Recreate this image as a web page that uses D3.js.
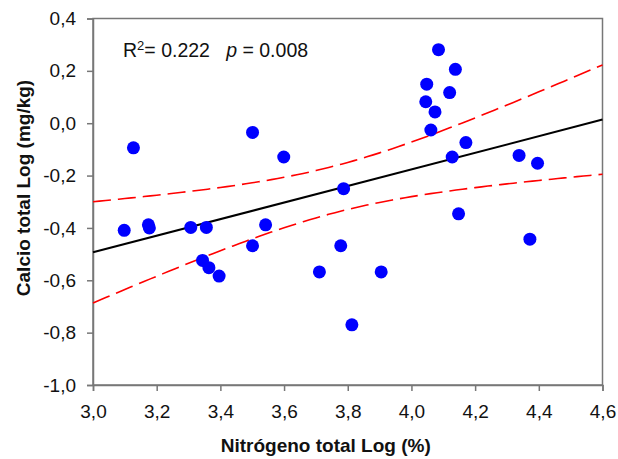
<!DOCTYPE html>
<html>
<head>
<meta charset="utf-8">
<script src="https://cdn.jsdelivr.net/npm/d3@7"></script>
<style>
  body { margin: 0; background: #fff; }
  text { font-family: "Liberation Sans", Arial, sans-serif; }
</style>
</head>
<body>
<div id="chart"></div>
<script>
// nitrógeno total (log %) vs calcio total (log mg/kg)
var nitrogeno = [3.127, 3.501, 3.599, 3.098, 3.174, 3.177, 3.307, 3.356, 3.542, 3.501,
                 3.344, 3.364, 3.396, 3.711, 3.778, 3.905, 3.813, 4.372, 4.085, 4.138,
                 4.048, 4.120, 4.045, 4.074, 4.061, 4.171, 4.128, 4.338, 4.396, 3.787, 4.148];
var calcio = [-0.094, -0.035, -0.129, -0.409, -0.388, -0.400, -0.398, -0.398, -0.388, -0.468,
              -0.524, -0.552, -0.584, -0.568, -0.468, -0.568, -0.770, -0.443, 0.281, 0.206,
              0.149, 0.117, 0.082, 0.043, -0.026, -0.074, -0.129, -0.123, -0.153, -0.250, -0.346];
var xTicks = [3.0, 3.2, 3.4, 3.6, 3.8, 4.0, 4.2, 4.4, 4.6];
var yTicks = [0.4, 0.2, 0.0, -0.2, -0.4, -0.6, -0.8, -1.0];

var width = 618, height = 459;
var margin = {top: 18.5, right: 15.5, bottom: 74, left: 93};

var svg = d3.select("#chart")
  .append("svg")
    .attr("width", width)
    .attr("height", height);

var x = d3.scaleLinear().domain([3.0, 4.6]).range([margin.left, width - margin.right]);
var y = d3.scaleLinear().domain([-1.0, 0.4]).range([height - margin.bottom, margin.top]);

var fmt = function(d) { return d3.format(".1f")(d).replace(".", ",").replace("−", "-"); };

// regression + 95% confidence band
var n = nitrogeno.length;
var mx = d3.mean(nitrogeno), my = d3.mean(calcio);
var sxx = d3.sum(nitrogeno, function(d) { return (d - mx) * (d - mx); });
var sxy = d3.sum(nitrogeno, function(d, i) { return (d - mx) * (calcio[i] - my); });
var slope = sxy / sxx, icpt = my - slope * mx;
var sse = d3.sum(nitrogeno, function(d, i) { var r = calcio[i] - (icpt + slope * d); return r * r; });
var s = Math.sqrt(sse / (n - 2));
var tval = 2.045;
var xs = d3.range(3.0, 4.6001, 0.02);
var fit = function(v) { return icpt + slope * v; };
var half = function(v) { return tval * s * Math.sqrt(1 / n + (v - mx) * (v - mx) / sxx); };

var line = d3.line().x(function(d) { return x(d[0]); }).y(function(d) { return y(d[1]); });

// frame
svg.append("rect")
  .attr("x", x(3.0)).attr("y", y(0.4))
  .attr("width", x(4.6) - x(3.0)).attr("height", y(-1.0) - y(0.4))
  .attr("fill", "none").attr("stroke", "#777").attr("stroke-width", 1.5);

var xAxis = svg.append("g")
  .attr("transform", "translate(0," + y(-1.0) + ")")
  .call(d3.axisBottom(x).tickValues(xTicks).tickSize(6).tickPadding(14).tickFormat(fmt));
var yAxis = svg.append("g")
  .attr("transform", "translate(" + x(3.0) + ",0)")
  .call(d3.axisLeft(y).tickValues(yTicks).tickSize(6).tickPadding(11).tickFormat(fmt));
[xAxis, yAxis].forEach(function(g) {
  g.select(".domain").attr("stroke", "#777").attr("stroke-width", 1.5);
  g.selectAll(".tick line").attr("stroke", "#777").attr("stroke-width", 1.5);
  g.selectAll(".tick text").attr("fill", "#111").style("font-size", "19px")
    .style("font-family", "'Liberation Sans', Arial, sans-serif");
});

// confidence bands
[1, -1].forEach(function(sg) {
  svg.append("path")
    .datum(xs.map(function(v) { return [v, fit(v) + sg * half(v)]; }))
    .attr("d", line)
    .attr("fill", "none").attr("stroke", "#ff0000").attr("stroke-width", 1.6)
    .attr("stroke-dasharray", "18,7");
});

svg.append("path")
  .datum([[3.0, fit(3.0)], [4.6, fit(4.6)]])
  .attr("d", line)
  .attr("fill", "none").attr("stroke", "#000").attr("stroke-width", 2);

svg.selectAll("circle")
  .data(nitrogeno)
  .enter().append("circle")
    .attr("cx", function(d) { return x(d); })
    .attr("cy", function(d, i) { return y(calcio[i]); })
    .attr("r", 6.5)
    .attr("fill", "#0000ff");

// annotation
var ann = svg.append("text").attr("x", 123).attr("y", 57)
  .attr("xml:space", "preserve").style("white-space", "pre")
  .style("font-size", "19.5px").attr("fill", "#111");
ann.append("tspan").text("R");
ann.append("tspan").attr("dy", -7).style("font-size", "13px").text("2");
ann.append("tspan").attr("dy", 7).text("= 0.222   ");
ann.append("tspan").style("font-style", "italic").text("p");
ann.append("tspan").text(" = 0.008");

svg.append("text")
  .attr("x", (x(3.0) + x(4.6)) / 2 - 22).attr("y", 451.5)
  .attr("text-anchor", "middle")
  .style("font-size", "19px").style("font-weight", "bold").attr("fill", "#111")
  .text("Nitrógeno total Log (%)");

svg.append("text")
  .attr("transform", "translate(30,188) rotate(-90)")
  .attr("text-anchor", "middle")
  .style("font-size", "19px").style("font-weight", "bold").attr("fill", "#111")
  .text("Calcio total Log (mg/kg)");
</script>
</body>
</html>
